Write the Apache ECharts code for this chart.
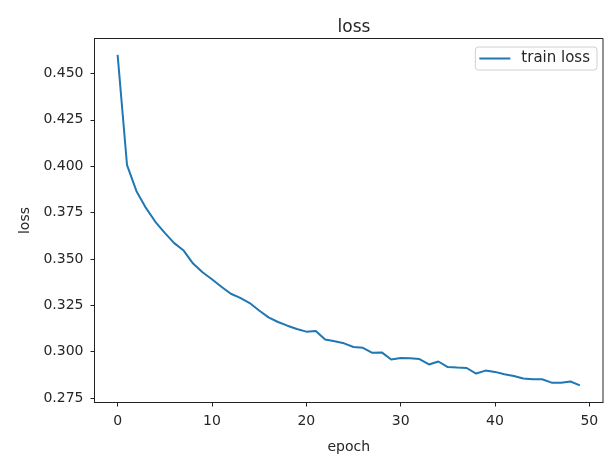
<!DOCTYPE html>
<html>
<head>
<meta charset="utf-8">
<script src="https://cdn.jsdelivr.net/npm/echarts@6/dist/echarts.min.js"></script>
<style>html,body{margin:0;padding:0;background:#fff;}#c{width:614px;height:462px;}</style>
</head>
<body>
<div id="c"></div>
<script>
const epochs = [0,1,2,3,4,5,6,7,8,9,10,11,12,13,14,15,16,17,18,19,20,21,22,23,24,25,26,27,28,29,30,31,32,33,34,35,36,37,38,39,40,41,42,43,44,45,46,47,48,49];
const trainLoss = [0.4600,0.4005,0.3865,0.3775,0.3700,0.3640,0.3585,0.3545,0.3475,0.3428,
  0.3390,0.3350,0.3312,0.3290,0.3262,0.3222,0.3185,0.3160,0.3140,0.3122,
  0.3108,0.3112,0.3066,0.3056,0.3045,0.3025,0.3021,0.2994,0.2996,0.2958,
  0.2966,0.2965,0.2960,0.2931,0.2947,0.2917,0.2914,0.2912,0.2882,0.2898,
  0.2891,0.2878,0.2869,0.2855,0.2851,0.2851,0.2833,0.2832,0.2839,0.2818];
const xTicks = [0,10,20,30,40,50];
const yTicks = [0.275,0.300,0.325,0.350,0.375,0.400,0.425,0.450];
const seriesName = 'train loss';

const chart = echarts.init(document.getElementById('c'), null, {renderer:'canvas'});
const txt = '#262626';
const font = 'DejaVu Sans';
chart.setOption({
  animation: false,
  backgroundColor: '#fff',
  title: {
    text: 'loss', left: 349, top: 14, textAlign: 'center',
    textStyle: {fontFamily: font, fontSize: 17, fontWeight: 'normal', color: txt}
  },
  legend: {
    right: 17, top: 47,
    data: [seriesName],
    icon: 'rect', itemWidth: 31, itemHeight: 2,
    backgroundColor: '#fff',
    borderColor: '#d0d0d0', borderWidth: 1, borderRadius: 3,
    padding: [4, 7, 4, 4],
    textStyle: {fontFamily: font, fontSize: 15, color: txt, padding: [0, 0, 0, 6]}
  },
  grid: {
    left: 94.5, right: 11, top: 38.5, bottom: 59.5,
    show: true, borderColor: '#222', borderWidth: 1, backgroundColor: '#fff'
  },
  xAxis: {
    type: 'value', min: -2.45, max: 51.45,
    name: 'epoch', nameLocation: 'middle', nameGap: 38,
    nameTextStyle: {fontFamily: font, fontSize: 14, color: txt},
    axisLine: {show: true, onZero: false, lineStyle: {color: '#222', width: 1}},
    axisTick: {show: true, inside: false, length: 4, customValues: xTicks, lineStyle: {color: '#222'}},
    axisLabel: {show: true, customValues: xTicks, margin: 12, fontFamily: font, fontSize: 14, color: txt},
    splitLine: {show: false}
  },
  yAxis: {
    type: 'value', min: 0.2726, max: 0.4688,
    name: 'loss', nameLocation: 'middle', nameGap: 62, nameRotate: 90,
    nameTextStyle: {fontFamily: font, fontSize: 14, color: txt},
    axisLine: {show: true, onZero: false, lineStyle: {color: '#222', width: 1}},
    axisTick: {show: true, inside: false, length: 4, customValues: yTicks, lineStyle: {color: '#222'}},
    axisLabel: {show: true, customValues: yTicks, margin: 11, fontFamily: font, fontSize: 14, color: txt,
      formatter: v => v.toFixed(3)},
    splitLine: {show: false}
  },
  series: [{
    name: seriesName, type: 'line',
    data: epochs.map((e, i) => [e, trainLoss[i]]),
    showSymbol: false, symbol: 'none',
    lineStyle: {color: '#1f77b4', width: 2},
    itemStyle: {color: '#1f77b4'}
  }]
});
</script>
</body>
</html>
